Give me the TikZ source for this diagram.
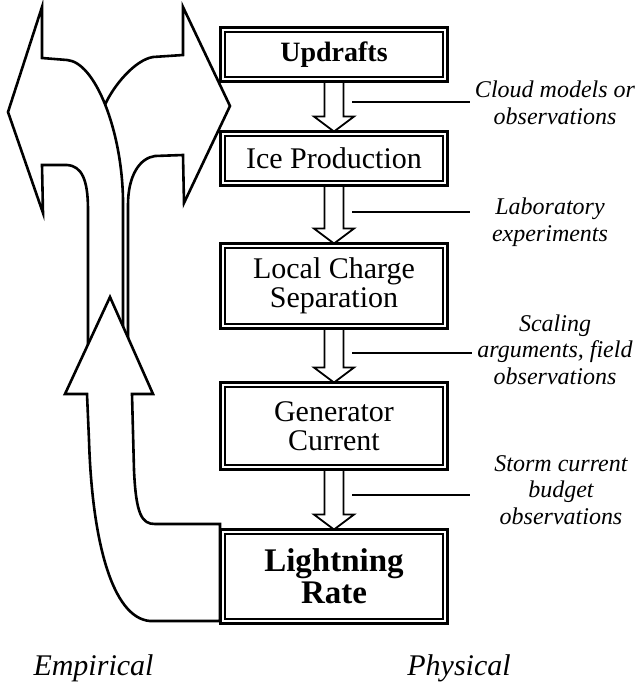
\documentclass[tikz,border=0pt]{standalone}
\usepackage{fontspec}
\setmainfont{Liberation Serif}
\usetikzlibrary{calc,backgrounds}
\begin{document}
\begin{tikzpicture}[x=1pt,y=-1pt,
  box/.style={draw, line width=2.8pt, fill=white, minimum width=227pt, inner sep=0pt, outer sep=0pt, align=center},
  boxtext/.style={font=\fontsize{30}{29}\selectfont},
  boldtext/.style={font=\fontsize{28}{29}\bfseries\selectfont},
  bigtext/.style={font=\fontsize{33}{32}\bfseries\selectfont},
  innerframe/.style={draw, line width=1.5pt},
  barrow/.style={draw, line width=1.8pt, fill=white, line join=miter},
  bigarrow/.style={draw, line width=2.6pt, fill=white, line join=miter},
  lab/.style={font=\fontsize{24}{26.5}\itshape\selectfont, align=center, anchor=base, inner sep=2pt},
  foot/.style={font=\fontsize{30}{32}\itshape\selectfont, anchor=base, inner sep=0pt},
  tick/.style={draw, line width=1.3pt}]
\useasboundingbox (0,0) rectangle (640,689);

% boxes
\node[box, boldtext, minimum height=54pt] (up) at (334,54.5) {Updrafts};
\node[box, boxtext, minimum height=54pt] (ice) at (334,158.5) {Ice Production};
\node[box, boxtext, minimum height=85pt] (lcs) at (334,286) {Local Charge\\Separation};
\node[box, boxtext, minimum height=87pt] (gen) at (334,426) {Generator\\Current};
\node[box, bigtext, minimum height=94pt] (lr) at (334,576.5) {Lightning\\Rate};
\foreach \n in {up,ice,lcs,gen,lr}
  \draw[innerframe] ([shift={(4.5,4.5)}]\n.north west) rectangle ([shift={(-4.5,-4.5)}]\n.south east);

\begin{pgfonlayer}{background}
% right-pointing big arrow
\draw[bigarrow] (128,390) -- (128,205) .. controls (128,175) and (140,158) .. (155,156)
  -- (183,155) -- (184,203) -- (230,106) -- (183,7) -- (183,55) -- (153,57)
  .. controls (135,60) and (114,85) .. (105.1,104.5) -- (110,200) -- (110,390) -- cycle;
% left-pointing big arrow
\draw[bigarrow] (123,390) -- (123,200) .. controls (122,130) and (95,62) .. (67,60)
  -- (42,58) -- (42,7) -- (8,112) -- (43,213) -- (42,165) -- (67,165)
  .. controls (82,166) and (88,180) .. (88,210) -- (88,390) -- cycle;
% upward big arrow from Lightning Rate
\draw[bigarrow] (220,524) -- (155,524) .. controls (142,524) and (136,515) .. (134,470)
  -- (132,394) -- (153,394) -- (110,297) -- (65,394) -- (87,394) -- (89,440)
  .. controls (92,540) and (112,618) .. (150,621) -- (220,621) -- cycle;
% block arrows between boxes
\foreach \a/\b in {up/ice,ice/lcs,lcs/gen,gen/lr}
  \draw[barrow] ($(\a.south)+(-9.5,-4)$) -- ($(\b.north)+(-9.5,-15)$) -- ($(\b.north)+(-20,-15)$)
    -- (\b.north) -- ($(\b.north)+(20,-15)$) -- ($(\b.north)+(9.5,-15)$) -- ($(\a.south)+(9.5,-4)$);
\end{pgfonlayer}

% labels (base anchor = baseline of last line)
\node[lab] (l1) at (555,124) {Cloud models or\\observations};
\node[lab] (l2) at (550,241) {Laboratory\\experiments};
\node[lab] (l3) at (555,384) {Scaling\\arguments, field\\observations};
\node[lab] (l4) at (561,524) {Storm current\\budget\\observations};

\coordinate (t1s) at (352,102); \coordinate (t1e) at (470,102);
\coordinate (t2s) at (352,212); \coordinate (t2e) at (470,212);
\coordinate (t3s) at (352,353); \coordinate (t3e) at (472,353);
\coordinate (t4s) at (352,495); \coordinate (t4e) at (470,495);
\draw[tick] (t1s) -- (t1e);
\draw[tick] (t2s) -- (t2e);
\draw[tick] (t3s) -- (t3e);
\draw[tick] (t4s) -- (t4e);

\node[foot] (emp) at (93.5,675) {Empirical};
\node[foot] (phy) at (459,675) {Physical};
\end{tikzpicture}
\end{document}
